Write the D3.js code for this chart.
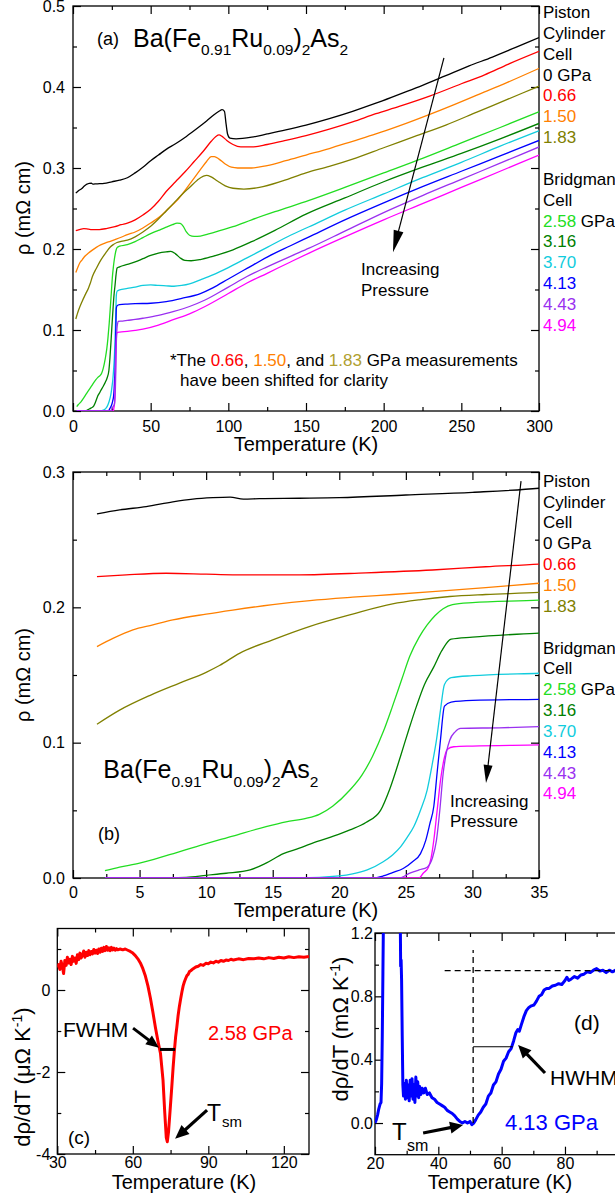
<!DOCTYPE html>
<html><head><meta charset="utf-8">
<script src="https://cdn.jsdelivr.net/npm/d3@7"></script>
<style>
body{margin:0;background:#fff;}
svg{display:block;font-family:"Liberation Sans",Arial,sans-serif;}
</style></head><body>
<svg id="chart" width="615" height="1200"></svg>
<script>
// ---------------- DATA ----------------
// resistivity rho (mOhm cm) vs temperature T (K)
const d000 = [[1.8,0.269],[3.5,0.272],[5.5,0.2744],[7.5,0.278],[9,0.280],[10.5,0.281],[11.8,0.2814],[12.8,0.2800],[14,0.2803],[17,0.2806],[20,0.2810],[25,0.2830],[30,0.2850],[35,0.288],[40,0.294],[45,0.301],[50,0.309],[55,0.316],[60,0.323],[66,0.330],[73,0.339],[80,0.349],[86,0.358],[91,0.366],[94,0.370],[96,0.372],[97.5,0.370],[98.5,0.355],[99.5,0.342],[101,0.337],[105,0.336],[115,0.338],[125,0.342],[137,0.347],[150,0.353],[165,0.361],[180,0.370],[195,0.380],[210,0.391],[225,0.402],[240,0.414],[255,0.426],[270,0.437],[285,0.449],[300,0.461]];
const d066 = [[1.8,0.2227],[4,0.224],[7,0.2252],[10,0.2245],[12,0.224],[17,0.224],[22,0.2255],[27,0.2276],[31,0.230],[35,0.232],[40,0.236],[45,0.242],[50,0.249],[55,0.259],[60,0.271],[66,0.283],[72,0.295],[78,0.308],[84,0.321],[89,0.333],[92,0.339],[94,0.341],[96,0.339],[99,0.334],[103,0.329],[108,0.326],[115,0.326],[125,0.329],[137,0.334],[150,0.340],[165,0.348],[180,0.357],[195,0.367],[210,0.376],[230,0.389],[250,0.404],[265,0.415],[280,0.428],[300,0.444]];
const d150 = [[1.8,0.171],[3,0.177],[4.5,0.1833],[6,0.187],[7.5,0.1907],[10,0.195],[12,0.198],[15,0.202],[17.8,0.205],[21,0.2075],[24,0.2095],[27,0.2116],[31,0.2145],[35,0.2178],[40,0.221],[45,0.226],[50,0.232],[56,0.240],[62,0.251],[67,0.260],[72,0.272],[77,0.285],[82,0.298],[86,0.308],[89,0.314],[91,0.314],[94,0.311],[98,0.305],[102,0.301],[106,0.300],[115,0.300],[125,0.303],[137,0.309],[150,0.316],[165,0.324],[180,0.333],[195,0.342],[210,0.352],[228,0.365],[245,0.378],[260,0.390],[280,0.406],[300,0.423]];
const d183 = [[1.8,0.1136],[3.5,0.124],[5.8,0.135],[8,0.144],[10,0.152],[11,0.157],[12.5,0.166],[15,0.176],[17.8,0.186],[21,0.195],[24,0.2025],[26,0.2055],[28.3,0.208],[31,0.2095],[35,0.211],[40,0.215],[45,0.221],[50,0.228],[55,0.237],[60,0.247],[65,0.257],[70,0.267],[75,0.276],[80,0.285],[84,0.290],[86,0.291],[89,0.289],[93,0.284],[98,0.278],[103,0.275],[110,0.274],[120,0.276],[135,0.284],[150,0.294],[165,0.302],[180,0.311],[200,0.325],[220,0.339],[240,0.353],[260,0.369],[280,0.385],[300,0.401]];
const d258 = [[2.4,0.0054],[3.5,0.008],[5,0.011],[7,0.0165],[9.5,0.024],[12,0.031],[14.5,0.038],[16,0.0415],[17.5,0.044],[18.5,0.047],[19.5,0.053],[20.8,0.065],[21.7,0.076],[22.5,0.090],[23.3,0.108],[24,0.127],[24.7,0.147],[25.3,0.164],[26,0.178],[26.6,0.187],[27.2,0.194],[27.8,0.199],[28.5,0.202],[30,0.2035],[35,0.2053],[40,0.209],[45,0.214],[50,0.219],[55,0.223],[60,0.227],[64,0.230],[67,0.232],[69,0.2315],[71,0.228],[73,0.221],[75,0.217],[78,0.2155],[82,0.216],[88,0.219],[95,0.223],[103,0.2275],[115,0.236],[130,0.246],[152,0.260],[175,0.276],[200,0.294],[225,0.312],[250,0.331],[275,0.350],[300,0.3695]];
const d316 = [[2.4,0.0],[6,0.0],[8.5,0.0005],[10,0.002],[11.5,0.0035],[13.3,0.006],[14.5,0.011],[15.8,0.018],[17,0.022],[17.8,0.025],[19.3,0.030],[20.8,0.0355],[22,0.041],[23.1,0.050],[23.8,0.066],[24.6,0.090],[25.2,0.109],[25.8,0.127],[26.4,0.143],[27.1,0.156],[27.7,0.168],[28.4,0.1765],[30,0.178],[35,0.181],[40,0.184],[45,0.188],[50,0.192],[55,0.195],[60,0.1965],[63,0.197],[66,0.194],[69,0.189],[72,0.186],[76,0.1855],[82,0.187],[90,0.191],[103,0.199],[115,0.209],[130,0.223],[150,0.243],[175,0.263],[200,0.283],[225,0.301],[250,0.318],[275,0.336],[300,0.355]];
const d370 = [[2.4,0],[12,0],[17,0.0],[20,0.0015],[21,0.003],[22.1,0.006],[23.3,0.012],[24,0.017],[24.6,0.023],[25.1,0.030],[25.6,0.038],[26.1,0.050],[26.6,0.065],[27,0.085],[27.3,0.102],[27.6,0.124],[27.9,0.143],[28.4,0.148],[30,0.1495],[35,0.1513],[40,0.153],[45,0.155],[50,0.1556],[55,0.155],[60,0.1545],[65,0.154],[70,0.155],[75,0.157],[82,0.162],[90,0.168],[100,0.177],[112,0.189],[125,0.202],[140,0.217],[152,0.2275],[175,0.248],[200,0.268],[225,0.288],[250,0.307],[275,0.327],[300,0.346]];
const d413 = [[2.4,0],[15,0],[22.5,0],[23.3,0.0015],[24,0.004],[24.8,0.007],[25.5,0.012],[26.1,0.018],[26.5,0.028],[26.8,0.040],[27.1,0.053],[27.35,0.078],[27.6,0.102],[27.9,0.127],[28.4,0.130],[30,0.1312],[35,0.132],[40,0.1325],[50,0.133],[60,0.135],[70,0.139],[82,0.145],[90,0.152],[100,0.163],[112,0.176],[125,0.190],[140,0.204],[152,0.215],[175,0.236],[200,0.257],[225,0.277],[250,0.296],[275,0.315],[300,0.334]];
const d443 = [[2.4,0],[15,0],[24.5,0],[25.3,0.0036],[26,0.006],[26.6,0.008],[27,0.015],[27.3,0.028],[27.55,0.050],[27.8,0.077],[28.05,0.093],[28.3,0.102],[28.7,0.108],[29.1,0.1106],[32,0.111],[35,0.1118],[40,0.113],[45,0.1145],[55,0.118],[65,0.123],[75,0.129],[85,0.137],[100,0.153],[112,0.166],[125,0.178],[140,0.191],[152,0.201],[175,0.222],[200,0.245],[225,0.266],[250,0.286],[275,0.306],[300,0.326]];
const d494 = [[2.4,0],[15,0],[26,0],[26.3,0.0035],[26.7,0.008],[26.9,0.015],[27.1,0.028],[27.35,0.050],[27.6,0.072],[27.85,0.087],[28.1,0.095],[28.6,0.097],[30,0.0975],[35,0.0983],[40,0.0995],[45,0.101],[55,0.106],[65,0.113],[75,0.120],[85,0.129],[100,0.145],[112,0.158],[125,0.170],[140,0.184],[152,0.195],[175,0.215],[200,0.236],[225,0.256],[250,0.276],[275,0.296],[300,0.316]];

const pressureLabels = ["0 GPa","0.66","1.50","1.83","2.58","3.16","3.70","4.13","4.43","4.94"];
const lineColors = ["#000000","#ff0000","#ff8000","#808000","#22dd22","#008000","#11ccdd","#0000ff","#9a30f0","#ff00ff"];
const curves = [d000,d066,d150,d183,d258,d316,d370,d413,d443,d494];
const drawOrder = [0,1,2,3,4,5,6,7,9,8];

// dρ/dT at 2.58 GPa (μΩ/K)
const dRdT258 = [[30.0,0.55],[30.5,0.62],[31.0,0.50],[31.5,0.70],[32.0,0.58],[32.5,0.40],[33.0,0.72],[33.5,0.60],[34.0,0.80],[34.5,0.66],[35.0,0.75],[35.5,0.62],[36.0,0.82],[36.5,0.70],[37.0,0.78],[37.5,0.65],[38.0,0.86],[38.5,0.74],[39.0,0.90],[39.5,0.78],[40.0,0.85],[40.5,0.95],[41.0,0.80],[41.5,0.92],[42.0,0.84],[42.5,0.96],[43.0,0.86],[43.5,0.94],[44.0,0.88],[44.5,0.99],[45.0,0.90],[45.5,0.97],[46.0,0.89],[46.5,1.00],[47.0,0.92],[47.5,1.02],[48.0,0.94],[48.5,1.04],[49.0,0.96],[49.5,1.06],[50.0,0.97],[50.5,1.03],[51.0,0.96],[51.5,1.04],[52.0,0.98],[52.5,1.02],[53.0,0.97],[53.5,1.01],[54.0,0.98],[55.0,1.00],[56.0,0.98],[57.0,1.00],[58.0,0.97],[59.0,0.94],[60.0,0.90],[61.0,0.84],[62.0,0.76],[63.0,0.66],[64.0,0.52],[65.0,0.34],[66.0,0.10],[67.0,-0.20],[68.0,-0.55],[69.0,-0.92],[70.0,-1.25],[71.0,-1.55],[72.0,-2.20],[72.7,-3.00],[73.3,-3.60],[73.7,-3.70],[74.2,-3.45],[74.8,-2.95],[75.5,-2.35],[76.0,-1.90],[76.5,-1.50],[77.0,-1.15],[77.5,-0.90],[78.0,-0.62],[78.5,-0.40],[79.0,-0.22],[79.5,-0.05],[80.0,0.10],[80.5,0.20],[81.0,0.28],[81.5,0.35],[82.0,0.38],[82.5,0.45],[83.0,0.47],[84.0,0.52],[85.0,0.56],[86.0,0.58],[87.0,0.62],[88.0,0.60],[89.0,0.65],[90.0,0.64],[91.0,0.68],[92.0,0.66],[93.0,0.70],[94.0,0.68],[95.0,0.72],[96.0,0.70],[97.0,0.73],[98.0,0.72],[99.0,0.75],[100,0.73],[102,0.76],[104,0.74],[106,0.77],[108,0.76],[110,0.78],[112,0.76],[114,0.79],[116,0.77],[118,0.80],[120,0.78],[122,0.81],[124,0.79],[126,0.81],[128,0.80],[130,0.82]];
// dρ/dT at 4.13 GPa (mΩ/K)
const dRdT413 = [[20.0,0.00],[20.4,0.02],[20.8,0.05],[21.2,0.09],[21.6,0.12],[21.9,0.13],[22.1,0.25],[22.3,0.55],[22.5,0.95],[22.7,1.35],[22.9,1.8],[23.2,3.0],[27.7,3.0],[27.9,1.6],[28.0,1.25],[28.1,0.99],[28.25,1.03],[28.4,0.90],[28.6,0.55],[28.8,0.24],[29.0,0.17],[29.3,0.25],[29.6,0.15],[29.9,0.27],[30.2,0.16],[30.5,0.24],[30.8,0.14],[31.1,0.27],[31.4,0.17],[31.7,0.28],[32.0,0.15],[32.3,0.24],[32.6,0.13],[32.9,0.29],[33.2,0.17],[33.5,0.26],[33.8,0.16],[34.1,0.23],[34.5,0.18],[34.9,0.22],[35.4,0.19],[35.9,0.22],[36.5,0.18],[37.2,0.19],[38.0,0.16],[38.8,0.15],[39.6,0.13],[40.4,0.12],[41.2,0.11],[42.0,0.10],[42.8,0.08],[43.6,0.07],[44.4,0.06],[45.2,0.045],[46.0,0.025],[46.8,0.01],[47.6,0.0],[48.4,0.01],[49.2,0.0],[50.0,0.01],[50.6,-0.01],[51.2,0.0],[51.8,0.02],[52.6,0.05],[53.4,0.07],[54.2,0.10],[55.0,0.12],[55.8,0.17],[56.6,0.19],[57.4,0.24],[58.2,0.26],[59.0,0.31],[59.8,0.34],[60.6,0.39],[61.4,0.41],[62.2,0.45],[63.0,0.47],[63.8,0.52],[64.5,0.57],[65.1,0.59],[65.6,0.58],[66.2,0.62],[67.0,0.67],[67.8,0.71],[68.6,0.73],[69.4,0.74],[70.2,0.745],[71.0,0.77],[71.8,0.80],[72.6,0.81],[73.4,0.84],[74.2,0.85],[75.0,0.85],[76.0,0.865],[77.0,0.87],[78.0,0.88],[79.0,0.875],[80.0,0.90],[80.6,0.92],[81.2,0.90],[82.0,0.91],[83.0,0.925],[84.0,0.915],[85.0,0.935],[86.0,0.94],[87.0,0.955],[88.0,0.95],[89.0,0.965],[90.0,0.975],[91.0,0.96],[92.0,0.965],[93.0,0.95],[94.0,0.965],[95.0,0.955],[96,0.965],[97,0.95],[98,0.97],[99,0.96],[100,0.965]];

// tick values
const xTicksA = [0,50,100,150,200,250,300], xMinorA = [25,75,125,175,225,275];
const yTicksA = [0,0.1,0.2,0.3,0.4,0.5], yMinorA = [0.05,0.15,0.25,0.35,0.45];
const xTicksB = [0,5,10,15,20,25,30,35], xMinorB = [2.5,7.5,12.5,17.5,22.5,27.5,32.5];
const yTicksB = [0,0.1,0.2,0.3], yMinorB = [0.05,0.15,0.25];
const xTicksC = [30,60,90,120], xMinorC = [45,75,105];
const yTicksC = [-4,-2,0], yMinorC = [-3,-1,1];
const xTicksD = [20,40,60,80], xMinorD = [30,50,70,90];
const yTicksD = [0,0.4,0.8,1.2], yMinorD = [0.2,0.6,1.0];

// legend rows (null = blank line)
const legendRows = [["Piston"],["Cylinder"],["Cell"],["0 GPa",0],["0.66",1],["1.50",2],["1.83",3],null,["Bridgman"],["Cell"],["2.58",4," GPa"],["3.16",5],["3.70",6],["4.13",7],["4.43",8],["4.94",9]];

// ---------------- DRAW ----------------
const FONT = '"Liberation Sans", Arial, sans-serif';
const svg = d3.select('#chart');
svg.append('rect').attr('width',615).attr('height',1200).attr('fill','#fff');
const defs = svg.append('defs');

const A = {x: d3.scaleLinear([0,300],[73,539]), y: d3.scaleLinear([0,0.5],[411,6])};
const B = {x: d3.scaleLinear([0,35],[73,539]), y: d3.scaleLinear([0,0.3],[878,472])};
const C = {x: d3.scaleLinear([30,130],[57.3,309]), y: d3.scaleLinear([-4,1.5],[1154,928.5])};
const D = {x: d3.scaleLinear([20,100],[375,628.3]), y: d3.scaleLinear([-0.2,1.2],[1154.7,933])};

function clip(id, P) {
  const [x0,x1] = P.x.range(), [y0,y1] = P.y.range();
  defs.append('clipPath').attr('id',id).append('rect')
    .attr('x',x0).attr('y',y1).attr('width',x1-x0).attr('height',y0-y1);
  return `url(#${id})`;
}

function frame(P, o) {
  const g = svg.append('g');
  const [x0,x1] = P.x.range(), [y0,y1] = P.y.range();
  const blank = () => '';
  function ax(gen, tr, vals, size, fmt, pad) {
    const a = g.append('g').attr('transform', tr)
      .call(gen.tickValues(vals).tickSize(size).tickPadding(pad).tickFormat(fmt));
    a.select('.domain').remove();
    a.attr('font-size', o.fs).attr('font-family', FONT);
    a.selectAll('line').attr('stroke','#000').attr('stroke-width',1.2);
    a.selectAll('text').attr('fill','#000');
  }
  ax(d3.axisBottom(P.x), `translate(0,${y0})`, o.xt, -o.maj, o.xf, o.xpad);
  ax(d3.axisBottom(P.x), `translate(0,${y0})`, o.xm, -o.min, blank, 0);
  ax(d3.axisTop(P.x), `translate(0,${y1})`, o.xt, -o.maj, blank, 0);
  ax(d3.axisTop(P.x), `translate(0,${y1})`, o.xm, -o.min, blank, 0);
  ax(d3.axisLeft(P.y), `translate(${x0},0)`, o.yt, -o.maj, o.yf, o.ypad);
  ax(d3.axisLeft(P.y), `translate(${x0},0)`, o.ym, -o.min, blank, 0);
  ax(d3.axisRight(P.y), `translate(${x1},0)`, o.yt, -o.maj, blank, 0);
  ax(d3.axisRight(P.y), `translate(${x1},0)`, o.ym, -o.min, blank, 0);
  g.append('rect').attr('x',x0).attr('y',y1).attr('width',x1-x0).attr('height',y0-y1)
    .attr('fill','none').attr('stroke','#000').attr('stroke-width',1.3);
}

function txt(x, y, s, size, color, anchor) {
  return svg.append('text').attr('x',x).attr('y',y).attr('font-size',size)
    .attr('fill',color||'#000').attr('text-anchor',anchor||'start').attr('font-family',FONT).text(s);
}

function arrow(x1,y1,x2,y2,len,hw,sw) {
  const dx = x2-x1, dy = y2-y1, L = Math.hypot(dx,dy), ux = dx/L, uy = dy/L;
  const bx = x2-ux*len, by = y2-uy*len;
  svg.append('line').attr('x1',x1).attr('y1',y1).attr('x2',x2-ux*len*0.6).attr('y2',y2-uy*len*0.6)
    .attr('stroke','#000').attr('stroke-width',sw);
  svg.append('path').attr('d',`M${x2},${y2}L${bx-uy*hw},${by+ux*hw}L${bx+uy*hw},${by-ux*hw}Z`).attr('fill','#000');
}

function formula(x, y, big, small, shift) {
  const t = svg.append('text').attr('x',x).attr('y',y).attr('font-size',big).attr('font-family',FONT).attr('fill','#000');
  const parts = [["Ba(Fe",0],["0.91",1],["Ru",0],["0.09",1],[")",0],["2",1],["As",0],["2",1]];
  let cur = 0;
  parts.forEach(([s,sub]) => {
    const dy = sub ? shift - cur : -cur;
    cur = sub ? shift : 0;
    t.append('tspan').attr('dy',dy).attr('font-size', sub ? small : big).text(s);
  });
}

const fmt1 = d3.format('.1f');
const lineGen = P => d3.line().x(d => P.x(d[0])).y(d => P.y(d[1])).curve(d3.curveMonotoneX);

// ---- Panel (a)
frame(A, {fs:16, maj:8, min:4, xt:xTicksA, xm:xMinorA, yt:yTicksA, ym:yMinorA, xf:d3.format('d'), yf:fmt1, xpad:9.5, ypad:8});
const ga = svg.append('g').attr('clip-path', clip('ca', A));
drawOrder.forEach(i => ga.append('path').attr('d', lineGen(A)(curves[i])).attr('fill','none').attr('stroke',lineColors[i]).attr('stroke-width',1.3));

// ---- Panel (b)
frame(B, {fs:16, maj:8, min:4, xt:xTicksB, xm:xMinorB, yt:yTicksB, ym:yMinorB, xf:d3.format('d'), yf:fmt1, xpad:9, ypad:8});
const gb = svg.append('g').attr('clip-path', clip('cb', B));
drawOrder.forEach(i => gb.append('path').attr('d', lineGen(B)(curves[i].filter(d => d[0] <= 40))).attr('fill','none').attr('stroke',lineColors[i]).attr('stroke-width',1.3));

// legends for a and b
[[18, 543],[486.7, 543]].forEach(([y0, x]) => {
  legendRows.forEach((r, k) => {
    if (!r) return;
    const t = svg.append('text').attr('x',x).attr('y',y0 + 20.85*k).attr('font-size',17).attr('font-family',FONT);
    t.append('tspan').attr('fill', r[1] === undefined ? '#000' : lineColors[r[1]]).text(r[0]);
    if (r[2]) t.append('tspan').attr('fill','#000').text(r[2]);
  });
});

// axis titles a, b
txt(306, 451, 'Temperature (K)', 20, '#000', 'middle');
txt(306, 917, 'Temperature (K)', 20, '#000', 'middle');
svg.append('text').attr('transform','translate(30,208) rotate(-90)').attr('text-anchor','middle').attr('font-size',20).attr('font-family',FONT).text('ρ (mΩ cm)');
svg.append('text').attr('transform','translate(30,675) rotate(-90)').attr('text-anchor','middle').attr('font-size',20).attr('font-family',FONT).text('ρ (mΩ cm)');

// annotations a
txt(97, 45, '(a)', 18);
formula(133, 46.7, 25, 15.5, 8);
const fn = svg.append('text').attr('x',170).attr('y',365.7).attr('font-size',17).attr('font-family',FONT);
[["*The ","#000"],["0.66","#ff0000"],[", ","#000"],["1.50","#ff8000"],[", and ","#000"],["1.83","#b0a030"],[" GPa measurements","#000"]]
  .forEach(([s,c]) => fn.append('tspan').attr('fill',c).text(s));
txt(180, 385.7, 'have been shifted for clarity', 17);
arrow(A.x(238.8), A.y(0.436), A.x(206), A.y(0.196), 22, 5, 1.2);
txt(361, 275, 'Increasing', 17);
txt(361, 296, 'Pressure', 17);

// annotations b
formula(103.3, 778.3, 25, 15.5, 9);
txt(98, 840, '(b)', 18);
arrow(B.x(33.65), B.y(0.2933), B.x(31.02), B.y(0.0702), 18, 4.5, 1.2);
txt(450, 806.7, 'Increasing', 17);
txt(450, 826.7, 'Pressure', 17);

// ---- Panel (c)
frame(C, {fs:16, maj:8, min:4, xt:xTicksC, xm:xMinorC, yt:yTicksC, ym:yMinorC, xf:d3.format('d'), yf:v => String(v), xpad:3, ypad:7});
svg.append('g').attr('clip-path', clip('cc', C)).append('path')
  .attr('d', d3.line().x(d => C.x(d[0])).y(d => C.y(d[1]))(dRdT258))
  .attr('fill','none').attr('stroke','#ff0000').attr('stroke-width',3).attr('stroke-linejoin','round');
svg.append('line').attr('x1',C.x(70.8)).attr('x2',C.x(76.8)).attr('y1',C.y(-1.45)).attr('y2',C.y(-1.45)).attr('stroke','#000').attr('stroke-width',3);
txt(184, 1189, 'Temperature (K)', 20, '#000', 'middle');
const yc = svg.append('text').attr('transform','translate(30,1077) rotate(-90)').attr('text-anchor','middle').attr('font-size',22).attr('font-family',FONT);
yc.append('tspan').text('dρ/dT (μΩ K');
yc.append('tspan').attr('dy',-8).attr('font-size',14).text('-1');
yc.append('tspan').attr('dy',8).text(')');
txt(68, 1144, '(c)', 19);
txt(63, 1037, 'FWHM', 21);
txt(208, 1040, '2.58 GPa', 20, '#ff0000');
txt(207, 1121, 'T', 23);
txt(222, 1127, 'sm', 15);
arrow(C.x(60.1), C.y(-0.93), C.x(70.4), C.y(-1.41), 13, 5.5, 3);
arrow(C.x(89.5), C.y(-2.93), C.x(76.8), C.y(-3.63), 14, 6, 3.2);

// ---- Panel (d)
frame(D, {fs:16, maj:8, min:4, xt:xTicksD, xm:xMinorD, yt:yTicksD, ym:yMinorD, xf:d3.format('d'), yf:fmt1, xpad:3, ypad:2});
const gd = svg.append('g').attr('clip-path', clip('cd', D));
gd.append('path').attr('d', d3.line().x(d => D.x(d[0])).y(d => D.y(d[1]))(dRdT413))
  .attr('fill','none').attr('stroke','#0000ff').attr('stroke-width',3).attr('stroke-linejoin','round');
gd.append('line').attr('x1',D.x(51)).attr('x2',D.x(51)).attr('y1',D.y(0)).attr('y2',D.y(1.093)).attr('stroke','#000').attr('stroke-width',1.3).attr('stroke-dasharray','6,4');
gd.append('line').attr('x1',D.x(42)).attr('x2',D.x(100)).attr('y1',D.y(0.962)).attr('y2',D.y(0.962)).attr('stroke','#000').attr('stroke-width',1.3).attr('stroke-dasharray','6,4');
gd.append('line').attr('x1',D.x(51)).attr('x2',D.x(63.5)).attr('y1',D.y(0.482)).attr('y2',D.y(0.482)).attr('stroke','#000').attr('stroke-width',1.1);
txt(500, 1189, 'Temperature (K)', 20, '#000', 'middle');
const yd = svg.append('text').attr('transform','translate(348,1029) rotate(-90)').attr('text-anchor','middle').attr('font-size',22).attr('font-family',FONT);
yd.append('tspan').text('dρ/dT (mΩ K');
yd.append('tspan').attr('dy',-8).attr('font-size',14).text('-1');
yd.append('tspan').attr('dy',8).text(')');
txt(574, 1030, '(d)', 21);
txt(505, 1130, '4.13 GPa', 22, '#0000ff');
txt(550, 1085, 'HWHM', 21);
txt(392, 1140, 'T', 24);
txt(407, 1151, 'sm', 16);
arrow(D.x(73.7), D.y(0.316), D.x(65.2), D.y(0.493), 13, 6, 3.2);
arrow(D.x(35.2), D.y(-0.063), D.x(47.8), D.y(-0.013), 13, 6, 3.2);
</script></body></html>
